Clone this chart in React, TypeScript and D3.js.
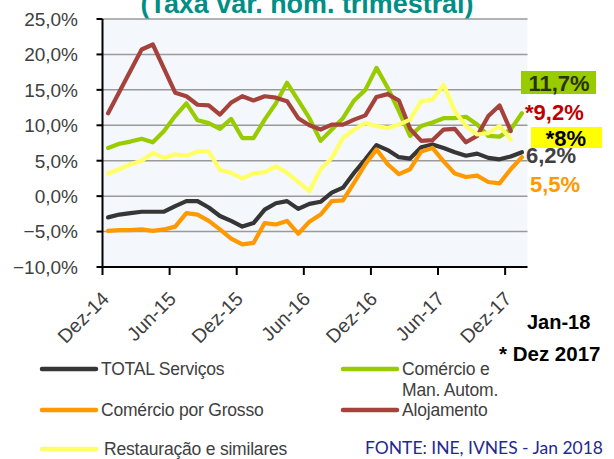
import React, { useEffect, useRef } from "react";
import * as d3 from "d3";

const months = [
  "Dez-14",
  "Jan-15", "Fev-15", "Mar-15", "Abr-15", "Mai-15", "Jun-15", "Jul-15", "Ago-15", "Set-15", "Out-15", "Nov-15", "Dez-15",
  "Jan-16", "Fev-16", "Mar-16", "Abr-16", "Mai-16", "Jun-16", "Jul-16", "Ago-16", "Set-16", "Out-16", "Nov-16", "Dez-16",
  "Jan-17", "Fev-17", "Mar-17", "Abr-17", "Mai-17", "Jun-17", "Jul-17", "Ago-17", "Set-17", "Out-17", "Nov-17", "Dez-17",
  "Jan-18",
];

const tickLabels = ["Dez-14", "Jun-15", "Dez-15", "Jun-16", "Dez-16", "Jun-17", "Dez-17"];
const yTicks = [-10, -5, 0, 5, 10, 15, 20, 25];

// TOTAL Serviços
const total = [
  -3.0, -2.6, -2.4, -2.2, -2.2, -2.2, -1.4, -0.7, -0.7, -1.6, -2.8, -3.5, -4.3,
  -3.8, -1.9, -1.0, -0.7, -1.8, -1.1, -0.8, 0.5, 1.2, 3.3, 5.2, 7.2,
  6.5, 5.5, 5.3, 6.9, 7.3, 6.8, 6.2, 5.7, 6.0, 5.4, 5.2, 5.6,
  6.2,
];

// Comércio e Man. Autom.
const comercioAuto = [
  6.8, 7.4, 7.7, 8.1, 7.6, 9.2, 11.3, 13.1, 10.7, 10.3, 9.5, 10.9, 8.2,
  8.2, 10.8, 13.1, 16.0, 13.5, 11.0, 7.8, 9.4, 11.0, 13.5, 15.0, 18.1,
  15.3, 12.0, 8.5, 9.9, 10.4, 11.0, 11.0, 11.2, 10.1, 8.5, 8.4, 9.4,
  11.7,
];

// Comércio por Grosso
const grosso = [
  -4.9, -4.8, -4.8, -4.7, -4.9, -4.7, -4.3, -2.4, -2.6, -3.5, -4.7, -6.0, -6.8,
  -6.6, -3.8, -4.0, -3.5, -5.3, -3.6, -2.6, -0.7, -0.6, 1.9, 4.5, 6.6,
  4.5, 3.1, 3.8, 6.3, 6.8, 4.9, 3.2, 2.7, 2.9, 2.0, 1.8, 3.8,
  5.5,
];

// Alojamento (até Dez 2017)
const alojamento = [
  11.7, 14.7, 17.7, 20.7, 21.4, 18.0, 14.6, 14.1, 12.9, 12.8, 11.5, 13.2, 14.1,
  13.5, 14.1, 13.9, 13.4, 11.0, 10.0, 9.4, 10.1, 10.1, 10.8, 11.4, 14.0,
  14.4, 13.5, 9.5, 7.8, 7.9, 9.4, 9.5, 7.6, 8.5, 11.3, 12.8, 9.2,
];

// Restauração e similares (até Dez 2017)
const restauracao = [
  3.2, 3.8, 4.5, 5.0, 6.1, 5.4, 5.9, 5.7, 6.3, 6.3, 3.7, 3.3, 2.5,
  3.2, 3.4, 4.2, 3.3, 2.0, 0.7, 3.8, 5.4, 8.2, 9.4, 10.3, 9.9,
  9.6, 10.1, 10.8, 13.4, 13.6, 15.7, 12.0, 9.9, 8.7, 8.9, 9.9, 8.0,
];

const series = [
  { name: "TOTAL Serviços", values: total, color: "#363636" },
  { name: "Comércio e Man. Autom.", values: comercioAuto, color: "#99cc00" },
  { name: "Comércio por Grosso", values: grosso, color: "#ff9900" },
  { name: "Alojamento", values: alojamento, color: "#a5423c" },
  { name: "Restauração e similares", values: restauracao, color: "#ffff66" },
];

const App = () => {
  const ref = useRef(null);

  useEffect(() => {
    const svg = d3.select(ref.current);
    svg.selectAll("*").remove();

    const font = "'Liberation Sans', Arial, sans-serif";
    const left = 102.5;
    const right = 527.5;
    const top = 19;
    const bottom = 267;

    const x = d3.scaleBand().domain(months).range([left, right]);
    const bw = x.bandwidth();
    const cx = (m) => x(m) + bw / 2;
    const y = d3.scaleLinear().domain([-10, 25]).range([bottom, top]);

    // title (cut off at the top, as in the source)
    svg
      .append("text")
      .attr("x", 307)
      .attr("y", 13)
      .attr("text-anchor", "middle")
      .attr("font-family", font)
      .attr("font-weight", "bold")
      .attr("font-size", 27)
      .attr("fill", "#008e86")
      .attr("textLength", 333)
      .attr("lengthAdjust", "spacingAndGlyphs")
      .text("(Taxa var. hom. trimestral)");

    // plot background
    svg
      .append("rect")
      .attr("x", left)
      .attr("y", top)
      .attr("width", right - left)
      .attr("height", bottom - top)
      .attr("fill", "#f4f7fb");

    // gridlines
    svg
      .append("g")
      .selectAll("line")
      .data(yTicks.filter((d) => d > -10))
      .enter()
      .append("line")
      .attr("x1", left)
      .attr("x2", right)
      .attr("y1", (d) => y(d))
      .attr("y2", (d) => y(d))
      .attr("stroke", "#9a9a9a")
      .attr("stroke-width", 1.5);

    // y axis
    const yAxis = svg.append("g");
    yAxis
      .append("line")
      .attr("x1", left)
      .attr("x2", left)
      .attr("y1", top)
      .attr("y2", bottom + 1)
      .attr("stroke", "#000")
      .attr("stroke-width", 2);
    yAxis
      .selectAll(".tick")
      .data(yTicks)
      .enter()
      .append("line")
      .attr("x1", left - 6)
      .attr("x2", left)
      .attr("y1", (d) => y(d))
      .attr("y2", (d) => y(d))
      .attr("stroke", "#000")
      .attr("stroke-width", 2);
    yAxis
      .selectAll("text")
      .data(yTicks)
      .enter()
      .append("text")
      .attr("x", 78)
      .attr("y", (d) => y(d))
      .attr("dy", "0.36em")
      .attr("text-anchor", "end")
      .attr("font-family", font)
      .attr("font-size", 19)
      .attr("fill", "#404040")
      .text((d) => d3.format(".1f")(d).replace(".", ",") + "%");

    // x axis
    const xAxis = svg.append("g");
    xAxis
      .append("line")
      .attr("x1", left - 1)
      .attr("x2", right)
      .attr("y1", bottom)
      .attr("y2", bottom)
      .attr("stroke", "#000")
      .attr("stroke-width", 2);
    xAxis
      .selectAll("line.tick")
      .data(tickLabels)
      .enter()
      .append("line")
      .attr("x1", (d) => x(d))
      .attr("x2", (d) => x(d))
      .attr("y1", bottom)
      .attr("y2", bottom + 8)
      .attr("stroke", "#000")
      .attr("stroke-width", 2);
    xAxis
      .selectAll("text")
      .data(tickLabels)
      .enter()
      .append("text")
      .attr("transform", (d) => `translate(${cx(d) + 2},${bottom + 33}) rotate(-45)`)
      .attr("text-anchor", "end")
      .attr("font-family", font)
      .attr("font-size", 19.5)
      .attr("fill", "#404040")
      .text((d) => d);

    // lines
    const line = d3
      .line()
      .x((d, i) => cx(months[i]))
      .y((d) => y(d));

    svg
      .append("g")
      .selectAll("path")
      .data(series)
      .enter()
      .append("path")
      .attr("d", (s) => line(s.values))
      .attr("fill", "none")
      .attr("stroke", (s) => s.color)
      .attr("stroke-width", 4.2)
      .attr("stroke-linejoin", "round")
      .attr("stroke-linecap", "round");

    // end labels
    const lab = svg.append("g").attr("font-family", font).attr("font-weight", "bold").attr("font-size", 22);
    lab.append("rect").attr("x", 521).attr("y", 71).attr("width", 75).attr("height", 23).attr("fill", "#99cc00");
    lab.append("text").attr("x", 559).attr("y", 90.5).attr("text-anchor", "middle").attr("fill", "#2a3300").text("11,7%");
    lab.append("text").attr("x", 525).attr("y", 120).attr("fill", "#c00000").text("*9,2%");
    lab.append("rect").attr("x", 531).attr("y", 127).attr("width", 71).attr("height", 21).attr("fill", "#ffff00");
    lab.append("text").attr("x", 566).attr("y", 146).attr("text-anchor", "middle").attr("fill", "#000").text("*8%");
    lab.append("text").attr("x", 526).attr("y", 163).attr("fill", "#404040").text("6,2%");
    lab.append("text").attr("x", 530).attr("y", 192).attr("fill", "#ff9900").text("5,5%");

    // notes
    const note = svg.append("g").attr("font-family", font).attr("font-weight", "bold").attr("fill", "#000");
    note.append("text").attr("x", 527).attr("y", 329).attr("font-size", 20).text("Jan-18");
    note.append("text").attr("x", 499).attr("y", 361).attr("font-size", 20.5).text("* Dez 2017");

    // legend
    const legendItems = [
      { s: series[0], lx: 42, ly: 369, lines: ["TOTAL Serviços"] },
      { s: series[1], lx: 343, ly: 369, lines: ["Comércio e", "Man. Autom."] },
      { s: series[2], lx: 42, ly: 410, lines: ["Comércio por Grosso"] },
      { s: series[3], lx: 343, ly: 410, lines: ["Alojamento"] },
      { s: series[4], lx: 42, ly: 449, lines: ["Restauração e similares"] },
    ];
    const lg = svg.append("g").selectAll("g").data(legendItems).enter().append("g");
    lg.append("line")
      .attr("x1", (d) => d.lx)
      .attr("x2", (d) => d.lx + 54)
      .attr("y1", (d) => d.ly)
      .attr("y2", (d) => d.ly)
      .attr("stroke", (d) => d.s.color)
      .attr("stroke-width", 4.5)
      .attr("stroke-linecap", "round");
    lg.each(function (d) {
      d3.select(this)
        .selectAll("text")
        .data(d.lines)
        .enter()
        .append("text")
        .attr("x", d.lx + 59 + (d.s === series[4] ? 3 : 0))
        .attr("y", (t, i) => d.ly + i * 21)
        .attr("dy", "0.36em")
        .attr("font-family", font)
        .attr("font-size", 17.5)
        .attr("letter-spacing", -0.2)
        .attr("fill", "#404040")
        .text((t) => t);
    });

    svg
      .append("text")
      .attr("x", 365)
      .attr("y", 448)
      .attr("dy", "0.36em")
      .attr("font-family", "Lato, 'Open Sans', sans-serif")
      .attr("font-size", 17.5)
      .attr("fill", "#1f2a8f")
      .attr("textLength", 238)
      .attr("lengthAdjust", "spacingAndGlyphs")
      .text("FONTE: INE, IVNES - Jan 2018");
  }, []);

  return (
    <svg
      ref={ref}
      width={614}
      height={459}
      style={{ position: "absolute", left: 0, top: 0, background: "#fff" }}
    ></svg>
  );
};

export default App;
